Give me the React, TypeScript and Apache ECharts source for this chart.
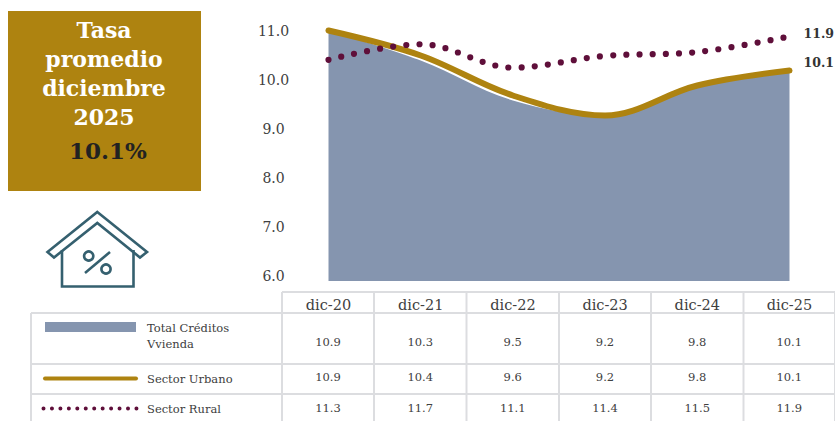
import React, { useEffect, useRef } from "react";
import * as echarts from "echarts";

const FONT = "'DejaVu Serif', serif";

const categories = ["dic-20", "dic-21", "dic-22", "dic-23", "dic-24", "dic-25"];
const totalCreditos = [10.9, 10.3, 9.5, 9.2, 9.8, 10.1];
const sectorUrbano = [10.9, 10.4, 9.6, 9.2, 9.8, 10.1];
const sectorRural = [11.3, 11.7, 11.1, 11.4, 11.5, 11.9];

const titleLines = ["Tasa", "promedio", "diciembre", "2025"];
const titleValue = "10.1%";

const GOLD = "#AE8310";
const SLATE = "#8595AF";
const WINE = "#5F0F3A";
const TEAL = "#35606F";
const RULE = "#DCDDE0";
const INK = "#404040";

const colEdges = [282, 374, 466.5, 559, 651, 743.5, 835];
const rowEdges = [292, 313, 364, 394, 421];

function tableGraphics(): any[] {
  const items: any[] = [];
  const rule = (x1: number, y1: number, x2: number, y2: number) =>
    items.push({
      type: "line",
      shape: { x1, y1, x2, y2 },
      style: { stroke: RULE, lineWidth: 2 },
    });
  rule(colEdges[0], rowEdges[0], 835, rowEdges[0]);
  rowEdges.slice(1, 4).forEach((y) => rule(31, y, 835, y));
  rule(31, rowEdges[1], 31, 421);
  colEdges.forEach((x) => rule(x, rowEdges[0], x, 421));

  const cell = (text: string, x: number, y: number) =>
    items.push({
      type: "text",
      style: { text, x, y, align: "center", verticalAlign: "middle", fill: INK, font: `11.5px ${FONT}` },
    });
  const rowCentres = [342, 377, 408];
  [totalCreditos, sectorUrbano, sectorRural].forEach((row, r) =>
    row.forEach((v, c) => cell(v.toFixed(1), (colEdges[c] + colEdges[c + 1]) / 2, rowCentres[r]))
  );

  const legendText = (text: string, y: number) =>
    items.push({
      type: "text",
      style: { text, x: 147, y, align: "left", verticalAlign: "middle", fill: INK, font: `11.5px ${FONT}` },
    });
  legendText("Total Créditos", 328);
  legendText("Vvienda", 344);
  legendText("Sector Urbano", 379);
  legendText("Sector Rural", 409);

  items.push({ type: "rect", shape: { x: 45, y: 322, width: 91, height: 10 }, style: { fill: SLATE } });
  items.push({
    type: "line",
    shape: { x1: 45, y1: 378.5, x2: 136, y2: 378.5 },
    style: { stroke: GOLD, lineWidth: 4, lineCap: "round" },
  });
  items.push({
    type: "line",
    shape: { x1: 43.5, y1: 408.5, x2: 137, y2: 408.5 },
    style: { stroke: WINE, lineWidth: 4, lineCap: "round", lineDash: [0, 8.45] },
  });
  return items;
}

function panelGraphics(): any[] {
  const items: any[] = [
    { type: "rect", shape: { x: 8, y: 11, width: 193, height: 180 }, style: { fill: GOLD } },
  ];
  titleLines.forEach((text, i) =>
    items.push({
      type: "text",
      style: {
        text,
        x: 104,
        y: 30 + i * 29,
        align: "center",
        verticalAlign: "middle",
        fill: "#FFFFFF",
        font: `bold 22px ${FONT}`,
      },
    })
  );
  items.push({
    type: "text",
    style: {
      text: titleValue,
      x: 108,
      y: 150,
      align: "center",
      verticalAlign: "middle",
      fill: "#222222",
      font: `bold 23px ${FONT}`,
    },
  });

  // House icon with a percent sign
  const stroke = { stroke: TEAL, lineWidth: 2.6, fill: "none" };
  items.push({
    type: "polygon",
    shape: {
      points: [
        [97.3, 212], [147, 252], [140, 257.5], [97.3, 223], [54, 257.5], [47.5, 252],
      ],
    },
    style: stroke,
  });
  items.push({
    type: "polyline",
    shape: { points: [[62, 250], [62, 286.5], [133.5, 286.5], [133.5, 250]] },
    style: stroke,
  });
  items.push({ type: "circle", shape: { cx: 88.7, cy: 256, r: 4.6 }, style: stroke });
  items.push({ type: "circle", shape: { cx: 106, cy: 269, r: 4.6 }, style: stroke });
  items.push({ type: "line", shape: { x1: 110, y1: 252, x2: 85, y2: 273 }, style: stroke });
  return items;
}

export default function App() {
  const ref = useRef<HTMLDivElement>(null);

  useEffect(() => {
    document.body.style.margin = "0";
    document.body.style.overflow = "hidden";
    const chart = echarts.init(ref.current!, null, { renderer: "svg" });
    chart.setOption({
      animation: false,
      backgroundColor: "#FFFFFF",
      textStyle: { fontFamily: FONT },
      grid: [
        { left: 328.5, width: 461, top: 25.5, height: 255.5 },
        { left: 328.5, width: 461, top: 31, height: 245 },
      ],
      xAxis: [
        {
          type: "category",
          gridIndex: 0,
          data: categories,
          boundaryGap: false,
          axisLine: { show: false },
          axisTick: { show: false },
          axisLabel: { interval: 0, margin: 16, fontSize: 14.5, color: INK, fontFamily: FONT },
        },
        { type: "category", gridIndex: 1, data: categories, boundaryGap: false, show: false },
      ],
      yAxis: [
        // Scale shared by the area and the urban line
        { type: "value", gridIndex: 0, min: 5.89, max: 11, show: false },
        // The rural line runs on its own hidden scale
        { type: "value", gridIndex: 0, min: 5.63, max: 12.18, show: false },
        // Printed tick labels
        {
          type: "value",
          gridIndex: 1,
          min: 6,
          max: 11,
          interval: 1,
          splitLine: { show: false },
          axisLine: { show: false },
          axisTick: { show: false },
          axisLabel: {
            margin: 55,
            align: "center",
            fontSize: 14,
            color: INK,
            fontFamily: FONT,
            formatter: (v: number) => v.toFixed(1),
          },
        },
      ],
      series: [
        {
          name: "Total Créditos Vvienda",
          type: "line",
          data: totalCreditos,
          xAxisIndex: 0,
          yAxisIndex: 0,
          smooth: 0.35,
          symbol: "none",
          lineStyle: { width: 0 },
          areaStyle: { color: SLATE, opacity: 1, origin: "start" },
        },
        {
          name: "Sector Urbano",
          type: "line",
          data: sectorUrbano,
          xAxisIndex: 0,
          yAxisIndex: 0,
          smooth: 0.35,
          symbol: "none",
          clip: false,
          lineStyle: { color: GOLD, width: 6, cap: "round" },
          endLabel: {
            show: true,
            offset: [6, -8],
            fontSize: 12.5,
            fontWeight: "bold",
            color: "#333333",
            fontFamily: FONT,
            formatter: (p: any) => Number(p.value).toFixed(1),
          },
        },
        {
          name: "Sector Rural",
          type: "line",
          data: sectorRural,
          xAxisIndex: 0,
          yAxisIndex: 1,
          smooth: 0.35,
          symbol: "none",
          clip: false,
          lineStyle: { color: WINE, width: 6.2, cap: "round", type: [0, 13.2] },
          endLabel: {
            show: true,
            offset: [6, -3],
            fontSize: 12.5,
            fontWeight: "bold",
            color: "#333333",
            fontFamily: FONT,
            formatter: (p: any) => Number(p.value).toFixed(1),
          },
        },
      ],
      graphic: { elements: [...panelGraphics(), ...tableGraphics()] },
    });
    return () => chart.dispose();
  }, []);

  return (
    <div
      ref={ref}
      style={{ position: "absolute", left: 0, top: 0, width: 835, height: 421 }}
    />
  );
}
